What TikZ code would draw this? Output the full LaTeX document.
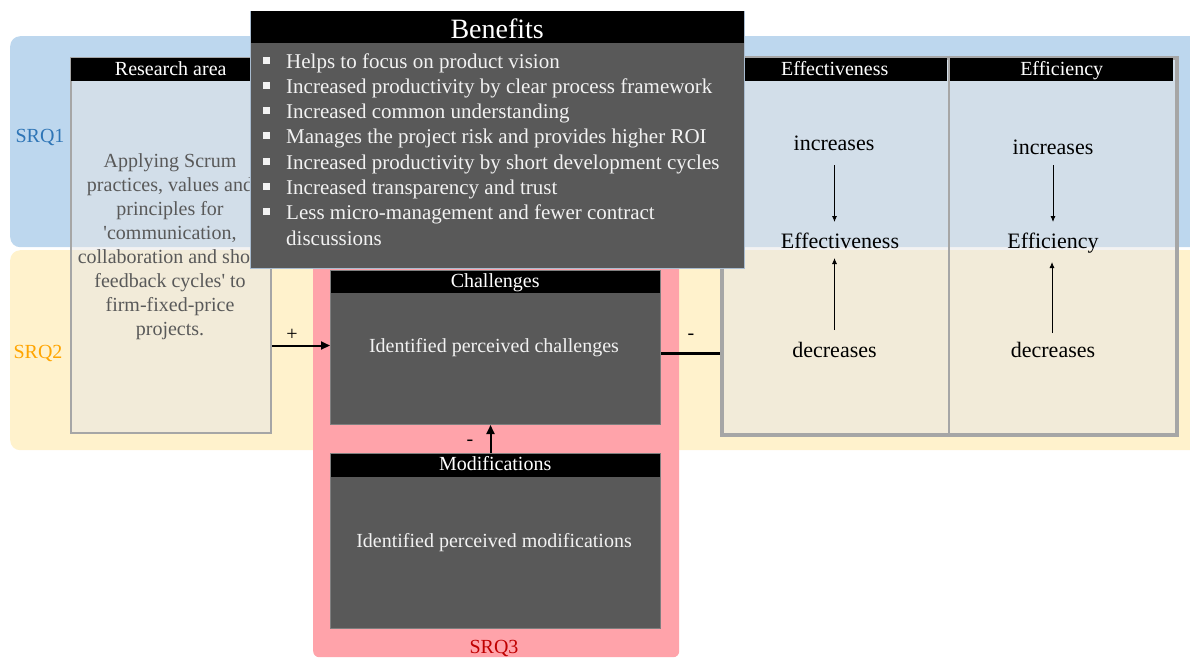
\documentclass[tikz,border=0pt]{standalone}
\usepackage{fontspec}
\setmainfont{Liberation Serif}
\usetikzlibrary{arrows.meta,calc}
\definecolor{bandblue}{HTML}{BDD7EE}
\definecolor{bandyellow}{HTML}{FFF2CC}
\definecolor{srqpink}{HTML}{FFA3AA}
\definecolor{panel}{HTML}{595959}
\definecolor{frame}{HTML}{A6A6A6}
\definecolor{veil}{HTML}{E7E6E6}
\definecolor{srqone}{HTML}{2E75B6}
\definecolor{srqtwo}{HTML}{FFA500}
\definecolor{srqthree}{HTML}{C00000}
\definecolor{lighttext}{HTML}{F2F2F2}
\definecolor{benefitedge}{HTML}{A9BCD0}
\definecolor{paneledge}{HTML}{7F7F7F}

\begin{document}
\begin{tikzpicture}[x=1pt,y=-1pt,
  area/.style={inner sep=0pt,anchor=north west,rounded corners=10pt},
  hdr/.style={fill=black,text=white,inner sep=0pt,anchor=north west,
    text height=14pt,text depth=3pt,font=\fontsize{20}{24}\selectfont},
  veilbox/.style={inner sep=0pt,anchor=north west,draw=frame,fill=veil,fill opacity=0.5},
  darkbox/.style={inner sep=0pt,anchor=north west,draw=paneledge,line width=1pt,fill=panel},
  lbl/.style={anchor=base,font=\fontsize{20}{24}\selectfont},
  bodytext/.style={anchor=base,text=lighttext,font=\fontsize{20}{24}\selectfont},
  flowtext/.style={anchor=base,font=\fontsize{22}{26}\selectfont},
  thinarrow/.style={line width=0.8pt,-{Latex[length=6pt,width=5pt]}},
  mainarrow/.style={line width=2pt,-{Triangle[length=9pt,width=8pt]}},
  sign/.style={inner sep=0pt,font=\fontsize{20}{24}\selectfont}
]
\useasboundingbox (0,0) rectangle (1190,657);

% sub-research-question bands
\node[area,fill=bandblue,minimum width=1200pt,minimum height=211pt] (band1) at (10,36) {};
\node[area,fill=bandyellow,minimum width=1200pt,minimum height=200pt] (band2) at (10,250) {};
\node[area,fill=srqpink,rounded corners=6pt,minimum width=366pt,minimum height=417pt] (band3) at (313,240) {};

\node[lbl,text=srqone] (srq1) at (40,142) {SRQ1};
\node[lbl,text=srqtwo] (srq2) at (38,358) {SRQ2};
\node[lbl,text=srqthree] (srq3) at (494,653) {SRQ3};

% research area column
\node[veilbox,line width=2pt,minimum width=200pt,minimum height=375pt] (ra) at (70,57) {};
\node[hdr,minimum width=199pt,minimum height=23pt] (rah) at (71,58) {Research area};
% the base of a multi-line node is the baseline of its last line
\node[lbl,text=panel,align=center] (ratext) at (170,335)
  {Applying Scrum\\practices, values and\\principles for\\\textquotesingle communication,\\collaboration and short\\feedback cycles\textquotesingle{} to\\firm-fixed-price\\projects.};

% effectiveness / efficiency panel
\node[veilbox,line width=4.5pt,minimum width=455pt,minimum height=377pt] (rb) at (719.5,55.5) {};
\draw[frame,line width=2pt] (rb.north) -- (rb.south);
\node[hdr,minimum width=225pt,minimum height=23pt] (effh) at (722,58) {Effectiveness};
\node[hdr,minimum width=223pt,minimum height=23pt] (effch) at (950,58) {Efficiency};

\node[flowtext] (inc1) at (834,150) {increases};
\node[flowtext] (eff1) at (840,248) {Effectiveness};
\node[flowtext] (dec1) at (834.5,357) {decreases};
\node[flowtext] (inc2) at (1053,154) {increases};
\node[flowtext] (eff2) at (1053,248) {Efficiency};
\node[flowtext] (dec2) at (1053,357) {decreases};
\draw[thinarrow] ($(inc1.base)+(0.5,15)$) -- ($(inc1.base)+(0.5,72)$);
\draw[thinarrow] ($(dec1.base)+(0,-27)$) -- ($(dec1.base)+(0,-99)$);
\draw[thinarrow] ($(inc2.base)+(0,11)$) -- ($(inc2.base)+(0,68)$);
\draw[thinarrow] ($(dec2.base)+(-1,-24)$) -- ($(dec2.base)+(-1,-95)$);

% challenges and modifications
\node[darkbox,minimum width=330pt,minimum height=154pt] (ch) at (330,270) {};
\node[hdr,minimum width=329pt,minimum height=22pt] (chh) at (330.5,270.5) {Challenges};
\node[bodytext] (chtext) at (494,352) {Identified perceived challenges};

\node[darkbox,minimum width=330pt,minimum height=175pt] (mo) at (330,453) {};
\node[hdr,minimum width=329pt,minimum height=23pt] (moh) at (330.5,453.5) {Modifications};
\node[bodytext] (motext) at (494,547) {Identified perceived modifications};

% relations
\coordinate (chin) at ($(ch.west)+(0,-2)$);
\draw[mainarrow] (ra.east |- chin) -- (chin);
\node[sign] (plus) at (292,335) {+};
\coordinate (chout) at ($(ch.east)+(0,6)$);
\draw[line width=2.5pt] (chout) -- (rb.west |- chout);
\node[sign] (minus1) at (691,337) {-};
\draw[mainarrow] ($(mo.north)+(-5,0)$) -- ($(ch.south)+(-5,0)$);
\node[sign] (minus2) at (470,443) {-};

% benefits overlay
\node[inner sep=0pt,anchor=north west,draw=benefitedge,line width=1pt,fill=panel,
  minimum width=494pt,minimum height=257pt] (bn) at (250,11) {};
\node[fill=black,text=white,inner sep=0pt,anchor=north west,minimum width=493pt,minimum height=32pt,
  text height=24pt,text depth=2pt,font=\fontsize{28}{32}\selectfont] (bnh) at (250.5,11) {Benefits};
\foreach \t [count=\i from 0] in {Helps to focus on product vision,
  Increased productivity by clear process framework,
  Increased common understanding,
  Manages the project risk and provides higher ROI,
  Increased productivity by short development cycles,
  Increased transparency and trust,
  Less micro-management and fewer contract}{
  \pgfmathsetmacro\yy{68+25.3*\i}
  \node[anchor=base west,inner sep=0pt,text=lighttext,font=\fontsize{21}{25}\selectfont] (bl\i) at (286,\yy) {\t};
  \fill[lighttext] ($(bl\i.base west)+(-23,-11.5)$) rectangle ++(7,7);
}
\node[anchor=base west,inner sep=0pt,text=lighttext,font=\fontsize{21}{25}\selectfont] (bl7) at (286,245.1) {discussions};
\end{tikzpicture}
\end{document}
